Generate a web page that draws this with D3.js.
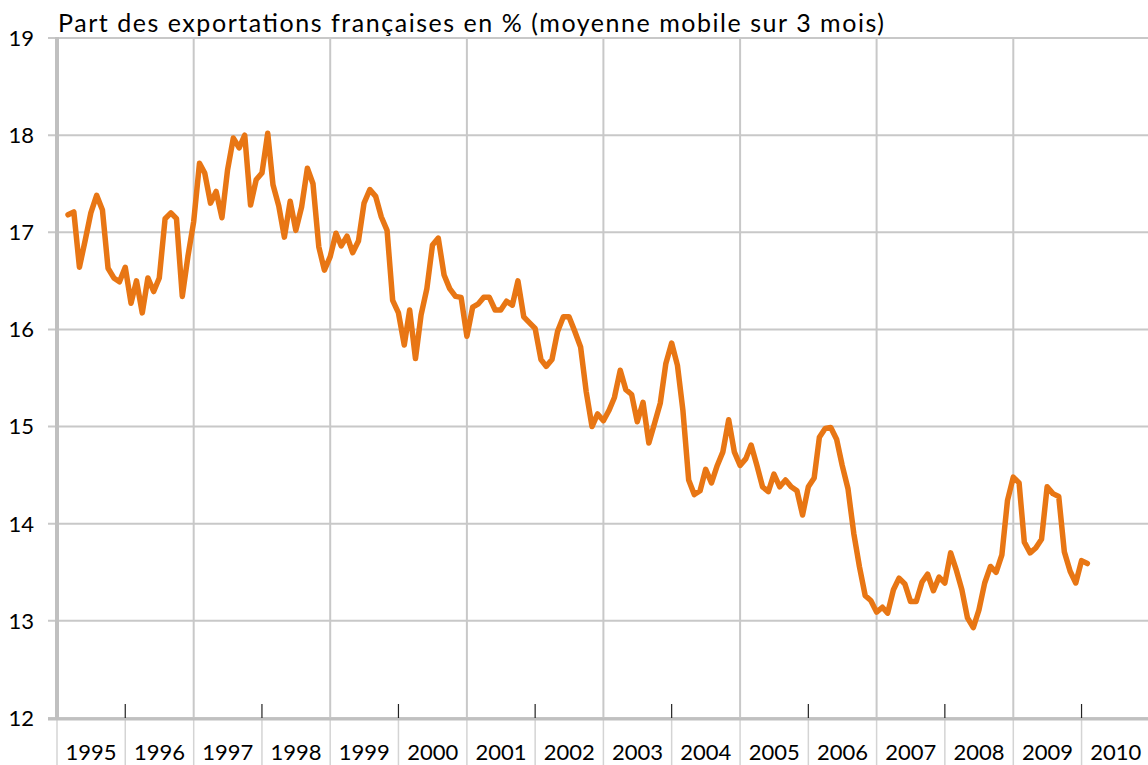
<!DOCTYPE html>
<html>
<head>
<meta charset="utf-8">
<script src="https://cdn.jsdelivr.net/npm/d3@7"></script>
<style>
  body { margin: 0; background: #fff; }
  svg text { font-family: Lato, "Noto Sans", sans-serif; fill: #000; }
</style>
</head>
<body>
<script>
// monthly share of French exports (%), 3-month moving average, from March 1995
const startYear = 1995
const startMonth = 2 // March
const shares = [
  17.18, 17.21, 16.64, 16.92, 17.20, 17.38, 17.23, 16.63, 16.53, 16.49,
  16.64, 16.27, 16.50, 16.17, 16.53, 16.39, 16.53, 17.14, 17.20, 17.14,
  16.34, 16.75, 17.11, 17.71, 17.61, 17.30, 17.42, 17.15, 17.64, 17.97,
  17.87, 18.00, 17.28, 17.54, 17.61, 18.02, 17.49, 17.27, 16.95, 17.32,
  17.02, 17.26, 17.66, 17.50, 16.85, 16.61, 16.75, 16.99, 16.86, 16.96,
  16.79, 16.91, 17.30, 17.44, 17.37, 17.16, 17.02, 16.30, 16.17, 15.84,
  16.20, 15.70, 16.15, 16.42, 16.87, 16.94, 16.56, 16.42, 16.34, 16.33,
  15.93, 16.23, 16.26, 16.33, 16.33, 16.20, 16.20, 16.29, 16.25, 16.50,
  16.13, 16.07, 16.01, 15.69, 15.62, 15.69, 15.98, 16.13, 16.13, 15.98,
  15.82, 15.36, 15.00, 15.13, 15.06, 15.17, 15.30, 15.58, 15.38, 15.33,
  15.05, 15.25, 14.83, 15.03, 15.24, 15.65, 15.86, 15.63, 15.17, 14.45,
  14.30, 14.34, 14.56, 14.42, 14.60, 14.74, 15.07, 14.74, 14.60, 14.67,
  14.81, 14.60, 14.38, 14.33, 14.51, 14.38, 14.45, 14.38, 14.34, 14.09,
  14.38, 14.47, 14.89, 14.98, 14.99, 14.87, 14.60, 14.36, 13.90, 13.56,
  13.26, 13.21, 13.09, 13.14, 13.08, 13.32, 13.44, 13.38, 13.20, 13.20,
  13.40, 13.48, 13.31, 13.45, 13.39, 13.70, 13.53, 13.32, 13.03, 12.93,
  13.11, 13.39, 13.56, 13.50, 13.68, 14.24, 14.48, 14.42, 13.81, 13.70,
  13.75, 13.84, 14.38, 14.31, 14.28, 13.71, 13.51, 13.39, 13.62, 13.59
]
const years = d3.range(1995, 2011) // 1995 .. 2010
const yTicks = [12, 13, 14, 15, 16, 17, 18, 19]
const title = 'Part des exportations françaises en % (moyenne mobile sur 3 mois)'

const width = 1148
const height = 765
const plotLeft = 57, plotTop = 38, plotBottom = 718, plotRight = 57 + 16 * 68.3

const data = shares.map((v, i) => ({ date: new Date(startYear, startMonth + i, 1), value: v }))

const svg = d3.select('body').append('svg')
  .attr('width', width)
  .attr('height', height)

const x = d3.scaleTime()
  .domain([new Date(1995, 0, 1), new Date(2011, 0, 1)])
  .range([plotLeft, plotRight])

const y = d3.scaleLinear()
  .domain([12, 19])
  .range([plotBottom, plotTop])

// horizontal grid
svg.append('g')
  .selectAll('line')
  .data(yTicks)
  .enter()
  .append('line')
  .attr('x1', 48)
  .attr('x2', width)
  .attr('y1', d => y(d))
  .attr('y2', d => y(d))
  .attr('stroke', '#c8c8c8')
  .attr('stroke-width', 2)

// vertical grid every two years
svg.append('g')
  .selectAll('line')
  .data(years.filter(d => d % 2 === 1 && d > 1995).concat([2011]))
  .enter()
  .append('line')
  .attr('x1', d => x(new Date(d, 0, 1)))
  .attr('x2', d => x(new Date(d, 0, 1)))
  .attr('y1', plotTop)
  .attr('y2', plotBottom)
  .attr('stroke', '#c8c8c8')
  .attr('stroke-width', 2)

// separators between year labels
svg.append('g')
  .selectAll('line')
  .data(years.concat([2011]))
  .enter()
  .append('line')
  .attr('x1', d => x(new Date(d, 0, 1)))
  .attr('x2', d => x(new Date(d, 0, 1)))
  .attr('y1', plotBottom)
  .attr('y2', height)
  .attr('stroke', '#d4d4d4')
  .attr('stroke-width', 1.5)

// axis lines
svg.append('line')
  .attr('x1', plotLeft).attr('x2', plotLeft)
  .attr('y1', plotTop - 1).attr('y2', plotBottom + 2)
  .attr('stroke', '#c0c0c0')
  .attr('stroke-width', 4)

svg.append('line')
  .attr('x1', 48).attr('x2', width)
  .attr('y1', plotBottom + 1).attr('y2', plotBottom + 1)
  .attr('stroke', '#c0c0c0')
  .attr('stroke-width', 3)

// small dark ticks on the category axis
svg.append('g')
  .selectAll('line')
  .data(years.filter(d => d % 2 === 0))
  .enter()
  .append('line')
  .attr('x1', d => x(new Date(d, 0, 1)))
  .attr('x2', d => x(new Date(d, 0, 1)))
  .attr('y1', plotBottom - 14)
  .attr('y2', plotBottom)
  .attr('stroke', '#222')
  .attr('stroke-width', 1.2)

// the series
const line = d3.line()
  .x(d => x(d.date))
  .y(d => y(d.value))

svg.append('path')
  .datum(data)
  .attr('d', line)
  .attr('fill', 'none')
  .attr('stroke', '#e87614')
  .attr('stroke-width', 5.5)
  .attr('stroke-linejoin', 'round')
  .attr('stroke-linecap', 'round')

// y labels
svg.append('g')
  .selectAll('text')
  .data(yTicks)
  .enter()
  .append('text')
  .attr('x', 34)
  .attr('y', d => y(d))
  .attr('dy', '0.36em')
  .attr('text-anchor', 'end')
  .style('font-size', '22px')
  .text(d => d)

// year labels
svg.append('g')
  .selectAll('text')
  .data(years)
  .enter()
  .append('text')
  .attr('x', d => (x(new Date(d, 0, 1)) + x(new Date(d + 1, 0, 1))) / 2)
  .attr('y', 760)
  .attr('text-anchor', 'middle')
  .style('font-size', '22px')
  .text(d => d)

svg.append('text')
  .attr('x', 58)
  .attr('y', 32)
  .attr('textLength', 826)
  .attr('lengthAdjust', 'spacing')
  .style('font-size', '25px')
  .text(title)
</script>
</body>
</html>
